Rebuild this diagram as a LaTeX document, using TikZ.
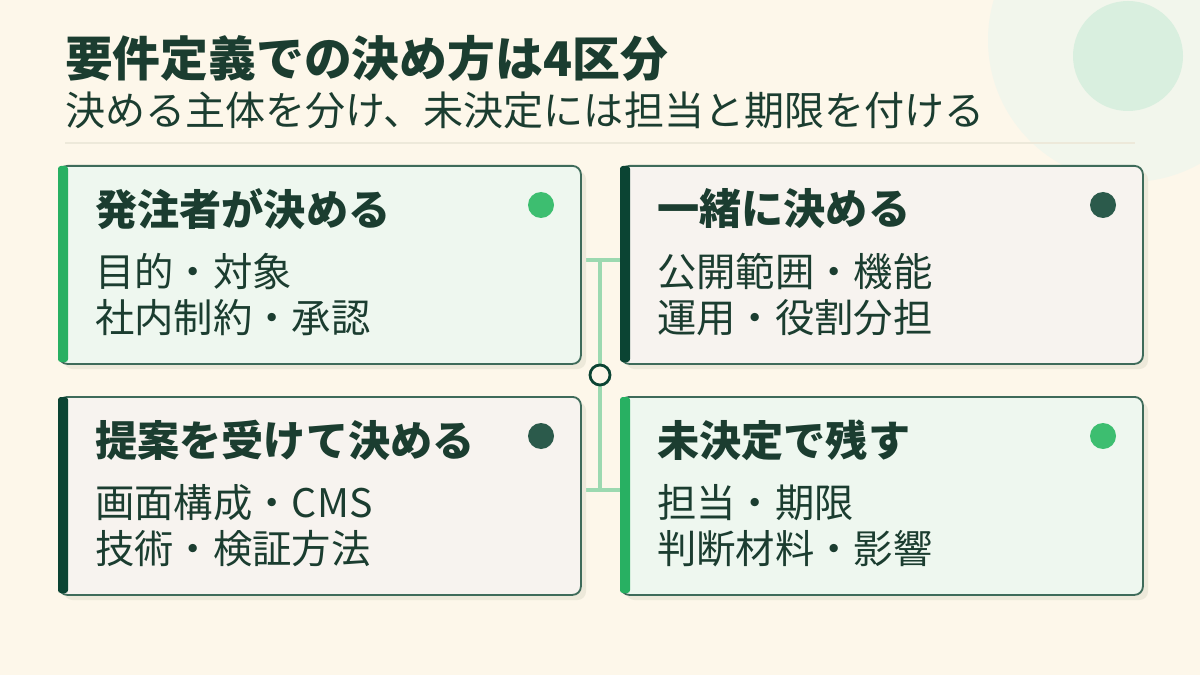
\documentclass[tikz,border=0pt]{standalone}
\usepackage{fontspec}
\setmainfont{Noto Sans CJK JP}
\usetikzlibrary{positioning}
\definecolor{bgc}{HTML}{FDF7EA}
\definecolor{ink}{HTML}{1B3D30}
\definecolor{edge}{HTML}{3E6B5A}
\definecolor{fillg}{HTML}{EEF7EF}
\definecolor{filln}{HTML}{F7F3EF}
\definecolor{barl}{HTML}{28B062}
\definecolor{bard}{HTML}{0B4433}
\definecolor{dotl}{HTML}{3DBE70}
\definecolor{dotd}{HTML}{2B5A4B}
\definecolor{link}{HTML}{9CD9B0}
\definecolor{shad}{HTML}{EDE9DA}
\definecolor{decoa}{HTML}{F2F6EC}
\definecolor{decob}{HTML}{D9EFDF}
\tikzset{
  card/.style={rounded corners=12, draw=edge, line width=2.6pt, minimum width=522*0.05cm, minimum height=198*0.05cm, anchor=north west, inner sep=0},
  cardtitle/.style={anchor=west, text=ink, font=\bfseries\fontsize{60}{62}\selectfont},
  cardbody/.style={anchor=west, text=ink, font=\fontsize{56}{58}\selectfont},
}
\begin{document}
\begin{tikzpicture}[x=0.05cm, y=-0.05cm]
  \fill[bgc] (0,0) rectangle (1200,675);
  \useasboundingbox (0,0) rectangle (1200,675);

  % Decoration
  \fill[decoa] (1130,40) circle (142);
  \fill[decob] (1128,56) circle (55);

  % Header
  \node[anchor=west, inner sep=0, text=ink, font=\bfseries\fontsize{68}{70}\selectfont] (title) at (65,58) {要件定義での決め方は4区分};
  \node[anchor=west, inner sep=0, text=ink, font=\fontsize{57}{59}\selectfont] (sub) at (65,110) {決める主体を分け、未決定には担当と期限を付ける};
  \draw[shad, line width=2pt] (65,143) -- (1135,143);

  % Connectors
  \draw[link, line width=5pt] (580,260) -- (620,260);
  \draw[link, line width=5pt] (580,490) -- (620,490);
  \draw[link, line width=5pt] (600,260) -- (600,490);
  \node[circle, draw=bard, line width=4pt, fill=bgc, minimum size=20*0.05cm, inner sep=0] (hub) at (600,375) {};

  % Cards
  \foreach \x/\y/\f/\b/\d/\n/\t/\la/\lb in {
      58/165/fillg/barl/dotl/TL/発注者が決める/目的・対象/社内制約・承認,
      620/165/filln/bard/dotd/TR/一緒に決める/公開範囲・機能/運用・役割分担,
      58/396/filln/bard/dotd/BL/提案を受けて決める/画面構成・CMS/技術・検証方法,
      620/396/fillg/barl/dotl/BR/未決定で残す/担当・期限/判断材料・影響}{
    \fill[shad, rounded corners=12] (\x+6,\y+6) rectangle ++(522,198);
    \node[card, fill=\f] (\n) at (\x,\y) {};
    \fill[\b, rounded corners=4] (\x,\y+1) rectangle ++(10,196);
    \node[cardtitle, inner sep=0] (\n t) at (\x+37,\y+44) {\t};
    \fill[\d] (\x+483,\y+40) circle (13);
    \node[cardbody, inner sep=0] (\n a) at (\x+37,\y+107) {\la};
    \node[cardbody, inner sep=0] (\n b) at (\x+37,\y+153) {\lb};
  }
\end{tikzpicture}
\end{document}
